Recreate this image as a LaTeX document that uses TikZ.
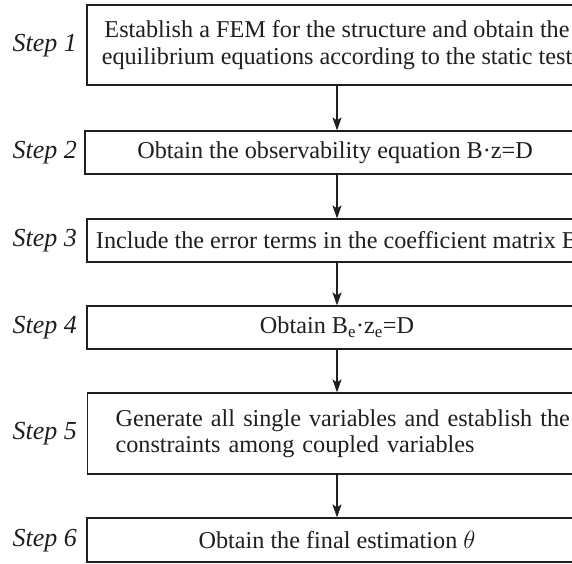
\documentclass[tikz,border=0pt]{standalone}
\usepackage{fontspec}
\setmainfont{Liberation Serif}
\usetikzlibrary{arrows.meta}
\begin{document}
\begin{tikzpicture}[x=1pt,y=-1pt,
  stepbox/.style={draw=black!88,line width=1.2pt,minimum width=500pt,inner sep=0pt,
    font=\fontsize{24.2}{26.5}\selectfont,align=center,text=black!88},
  steplabel/.style={anchor=east,font=\fontsize{26}{28}\selectfont\itshape,text=black!88,inner sep=0pt},
  flow/.style={draw=black!88,line width=1.2pt,-{Stealth[length=13pt,width=9pt,inset=3pt]}}]
\useasboundingbox (0,0) rectangle (572,563);
\clip (0,0) rectangle (572,563);
\fill[white] (0,0) rectangle (572,563);
\node[stepbox,minimum height=80pt] (b1) at (337,45) {Establish a FEM for the structure and obtain the\\equilibrium equations according to the static test};
\node[stepbox,minimum height=43pt] (b2) at (335,152.5) {Obtain the observability equation B·z=D};
\node[stepbox,minimum height=43pt] (b3) at (337,240.5) {Include the error terms in the coefficient matrix B};
\node[stepbox,minimum height=43pt] (b4) at (337,327.5) {Obtain B\textsubscript{e}·z\textsubscript{e}=D};
\node[stepbox,minimum height=81pt,text width=480pt,inner xsep=28pt,align=left,anchor=west] (b5) at (87,433.5) {Generate all single variables and establish the\\constraints among coupled variables};
\node[stepbox,minimum height=44pt] (b6) at (337,540) {Obtain the final estimation $\theta$};
\node[steplabel] (l1) at (77,46) {Step 1};
\node[steplabel] (l2) at (77,153) {Step 2};
\node[steplabel] (l3) at (77,241) {Step 3};
\node[steplabel] (l4) at (77,328) {Step 4};
\node[steplabel] (l5) at (77,434) {Step 5};
\node[steplabel] (l6) at (77,541) {Step 6};
\coordinate (ax) at (337,0);
\draw[flow] (b1.south) -- (b2.north -| ax);
\draw[flow] (b2.south -| ax) -- (b3.north);
\draw[flow] (b3.south) -- (b4.north);
\draw[flow] (b4.south) -- (b5.north -| ax);
\draw[flow] (b5.south -| ax) -- (b6.north);
\end{tikzpicture}
\end{document}
